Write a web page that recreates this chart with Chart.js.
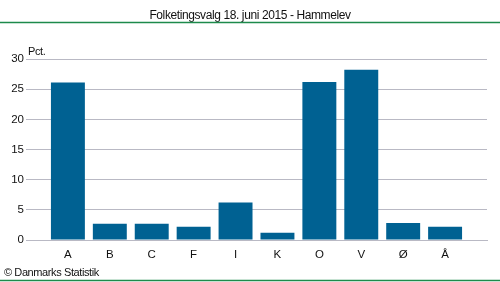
<!DOCTYPE html>
<html>
<head>
<meta charset="utf-8">
<script src="https://cdn.jsdelivr.net/npm/chart.js@4.4.1/dist/chart.umd.min.js"></script>
<style>
  html, body { margin: 0; padding: 0; background: #fff; }
  #wrap { width: 500px; height: 282px; }
</style>
</head>
<body>
<div id="wrap"><canvas id="chart" width="500" height="282"></canvas></div>
<script>
// Folketingsvalg 2015, Hammelev - pct. stemmer pr. parti
var parties = ["A", "B", "C", "F", "I", "K", "O", "V", "Ø", "Å"];
var pct = [26.1, 2.7, 2.7, 2.2, 6.2, 1.2, 26.2, 28.2, 2.8, 2.2];
var yTicks = [0, 5, 10, 15, 20, 25, 30];
var title = "Folketingsvalg 18. juni 2015 - Hammelev";
var source = "© Danmarks Statistik";
var unit = "Pct.";

var FONT = "'Liberation Sans', Arial, sans-serif";

// empty slot on each side so the bars sit one step in from the gridline ends
var labels = [""].concat(parties, [""]);
var values = [null].concat(pct, [null]);

var extras = {
  id: "extras",
  afterDraw: function (chart) {
    var ctx = chart.ctx;
    var w = chart.width;
    ctx.save();
    ctx.fillStyle = "#111";
    ctx.font = "12px " + FONT;
    ctx.letterSpacing = "-0.4px";
    ctx.textAlign = "center";
    ctx.textBaseline = "alphabetic";
    ctx.fillText(title, w / 2, 19);

    ctx.strokeStyle = "#1d8a4b";
    ctx.lineWidth = 1.5;
    ctx.beginPath();
    ctx.moveTo(0, 22.5);
    ctx.lineTo(w, 22.5);
    ctx.moveTo(0, 280.5);
    ctx.lineTo(w, 280.5);
    ctx.stroke();

    ctx.textAlign = "left";
    ctx.font = "11px " + FONT;
    ctx.fillText(unit, chart.chartArea.left + 2, 55);
    ctx.fillText(source, 4, 276);
    ctx.restore();
  }
};

new Chart(document.getElementById("chart"), {
  type: "bar",
  data: {
    labels: labels,
    datasets: [{
      data: values,
      backgroundColor: "#006192",
      categoryPercentage: 1,
      barPercentage: 0.81
    }]
  },
  options: {
    responsive: false,
    animation: false,
    layout: { padding: { top: 59, right: 13, bottom: 20, left: 0 } },
    plugins: { legend: { display: false }, tooltip: { enabled: false } },
    scales: {
      x: {
        offset: false,
        grid: { display: false, drawTicks: false },
        border: { color: "#b9b9c4" },
        ticks: { color: "#111", font: { family: FONT, size: 11.5 }, padding: 8, autoSkip: false, maxRotation: 0 },
        afterFit: function (s) { s.height = 22; }
      },
      y: {
        min: 0,
        max: 30,
        afterBuildTicks: function (s) { s.ticks = yTicks.map(function (v) { return { value: v }; }); },
        grid: { color: "#b9b9c4", drawTicks: false },
        border: { display: false },
        ticks: { color: "#111", font: { family: FONT, size: 11.5 }, padding: 2 },
        afterFit: function (s) { s.width = 26; }
      }
    }
  },
  plugins: [extras]
});
</script>
</body>
</html>
